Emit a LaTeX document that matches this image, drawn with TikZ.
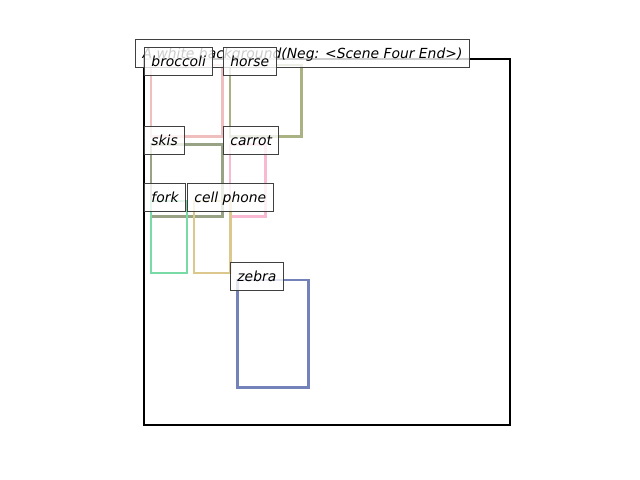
\documentclass[tikz,border=0pt]{standalone}
\usepackage{fontspec}
\setmainfont{DejaVu Sans}
\definecolor{cbroc}{RGB}{240,190,190}
\definecolor{chorse}{RGB}{168,178,130}
\definecolor{cskis}{RGB}{152,162,132}
\definecolor{ccarrot}{RGB}{250,185,210}
\definecolor{cfork}{RGB}{120,218,165}
\definecolor{cphone}{RGB}{220,200,140}
\definecolor{czebra}{RGB}{115,130,185}
\definecolor{lblborder}{RGB}{64,64,64}
\begin{document}
\begin{tikzpicture}[x=0.72pt,y=-0.72pt,
  frame/.style={draw=black,line width=1.5pt},
  bbox/.style={line width=1.5pt},
  lbl/.style={anchor=west,fill=white,fill opacity=0.8,text opacity=1,draw=lblborder,line width=0.7pt,
    inner xsep=5pt,inner ysep=0pt,minimum height=20.16pt,text height=8.5pt,text depth=1.3pt,font=\itshape}]
\useasboundingbox (0,0) rectangle (640,480);
\draw[frame] (144,59) rectangle (510,425);
% object boxes
\draw[bbox,cbroc] (151,65) rectangle (222.5,136.5);
\draw[bbox,chorse] (230,65) rectangle (301.5,136.5);
\draw[bbox,cskis] (151,144.5) rectangle (222.5,216.5);
\draw[bbox,ccarrot] (230,144.5) rectangle (265.5,216.5);
\draw[bbox,cfork] (151,201) rectangle (187,273);
\draw[bbox,cphone] (194,201) rectangle (230.5,273);
\draw[bbox,czebra] (237.5,280) rectangle (308.5,387.5);
% title
\node[lbl,anchor=center,minimum width=238.3pt] (title) at (302.5,53.5) {A white background(Neg: <Scene Four End>)};
% labels
\node[lbl] (lbroc) at (144,61) {broccoli};
\node[lbl] (lhorse) at (223,61) {horse};
\node[lbl] (lskis) at (144,140) {skis};
\node[lbl] (lcarrot) at (223,140) {carrot};
\node[lbl] (lfork) at (144,197) {fork};
\node[lbl] (lphone) at (187,197) {cell phone};
\node[lbl] (lzebra) at (230,276) {zebra};
\end{tikzpicture}
\end{document}
